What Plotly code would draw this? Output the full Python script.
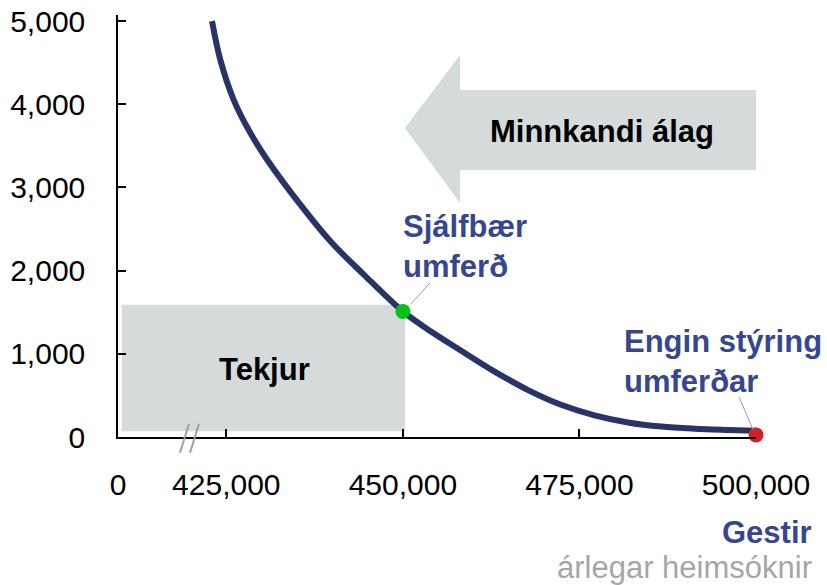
import plotly.graph_objects as go

# curve (visitors per year vs. price)
gestir = [422970, 424150, 426040, 428410, 430780, 435510, 439770, 444500, 450000,
          453980, 458200, 462930, 467660, 472400, 477130, 481860, 486600, 491330, 496070, 500000]
verd = [5000, 4534, 4054, 3654, 3334, 2790, 2350, 1950, 1510,
        1268, 1040, 790, 567, 387, 260, 175, 125, 100, 85, 75]

sjalfbaer_x = [450000]
sjalfbaer_y = [1510]
engin_x = [500000]
engin_y = [25]

tekjur_x = [410200, 450300]
tekjur_y = [70, 1590]

# axis: the "0" label sits at the broken left end
x_tickvals = [409660, 425000, 450000, 475000, 500000]
x_ticktext = ["0", "425,000", "450,000", "475,000", "500,000"]
y_tickvals = [0, 1000, 2000, 3000, 4000, 5000]
y_ticktext = ["0", "1,000", "2,000", "3,000", "4,000", "5,000"]

W, H = 827, 585
L, R, T, B = 118, 756, 15, 437.2


def px(x):
    return (x - L) / (R - L)


def py(y):
    return (B - y) / (B - T)


FONT = "Liberation Sans, Arial, sans-serif"
NAVY = "#283368"
BLUE = "#37478f"
GREY_FILL = "#d5dbdb"

fig = go.Figure()
fig.add_trace(go.Scatter(x=gestir, y=verd, mode="lines", line=dict(color=NAVY, width=6, shape="spline"),
                         hoverinfo="skip", cliponaxis=False))
fig.add_trace(go.Scatter(x=sjalfbaer_x, y=sjalfbaer_y, mode="markers",
                         marker=dict(color="#00c21a", size=15), cliponaxis=False))
fig.add_trace(go.Scatter(x=engin_x, y=engin_y, mode="markers",
                         marker=dict(color="#d0202a", size=15), cliponaxis=False))

# revenue box
fig.add_shape(type="rect", x0=tekjur_x[0], x1=tekjur_x[1], y0=tekjur_y[0], y1=tekjur_y[1],
              fillcolor=GREY_FILL, line_width=0, layer="below")

# big arrow pointing left
arrow = [(405, 128), (460, 55), (460, 90), (756, 90), (756, 170), (460, 170), (460, 203)]
path = "M " + " L ".join(f"{px(a):.4f},{py(b):.4f}" for a, b in arrow) + " Z"
fig.add_shape(type="path", path=path, xref="paper", yref="paper", fillcolor=GREY_FILL,
              line_width=0, layer="below")

# connector lines
for (x0, y0, x1, y1) in [(411, 304, 430, 283), (739, 397, 753, 430)]:
    fig.add_shape(type="line", xref="paper", yref="paper", x0=px(x0), y0=py(y0), x1=px(x1), y1=py(y1),
                  line=dict(color="#9a9a9a", width=1))

# axis break marks
for (x0, y0, x1, y1) in [(180, 453, 189, 424), (190, 453, 199, 424)]:
    fig.add_shape(type="line", xref="paper", yref="paper", x0=px(x0), y0=py(y0), x1=px(x1), y1=py(y1),
                  line=dict(color="#a0a0a0", width=2))


def note(text, x, y, xanchor="center", color="black", size=31):
    fig.add_annotation(text=text, x=px(x), y=py(y), xref="paper", yref="paper", xanchor=xanchor,
                       yanchor="middle", showarrow=False, align="left" if xanchor == "left" else
                       ("right" if xanchor == "right" else "center"),
                       font=dict(family=FONT, size=size, color=color))


note("<b>Minnkandi álag</b>", 602, 132)
note("<b>Tekjur</b>", 264, 370)
note("<b>Sjálfbær<br>umferð</b>", 401, 247, xanchor="left", color=BLUE)
note("<b>Engin stýring<br>umferðar</b>", 622, 362, xanchor="left", color=BLUE)
note("<b>Gestir</b>", 814, 533, xanchor="right", color=BLUE)
note("árlegar heimsóknir", 814, 568, xanchor="right", color="#a6a6a6")

fig.update_layout(
    width=W, height=H,
    margin=dict(l=L, r=W - R, t=T, b=H - B, autoexpand=False),
    plot_bgcolor="white", paper_bgcolor="white",
    showlegend=False,
    font=dict(family=FONT, size=30, color="black"),
)
fig.update_xaxes(range=[409660, 500000], tickvals=x_tickvals, ticktext=x_ticktext,
                 showline=True, linecolor="black", linewidth=1.5, ticks="inside", ticklen=8,
                 tickcolor="black", tickwidth=1.5, showgrid=False, zeroline=False,
                 ticklabelstandoff=20, automargin=False)
fig.update_yaxes(range=[0, 5074], tickvals=y_tickvals, ticktext=y_ticktext,
                 showline=True, linecolor="black", linewidth=1.5, ticks="inside", ticklen=8,
                 tickcolor="black", tickwidth=1.5, showgrid=False, zeroline=False,
                 ticklabelstandoff=25, automargin=False)

fig.write_html("out.html", config={"displayModeBar": False},
               post_script="document.body.style.margin='0';")
